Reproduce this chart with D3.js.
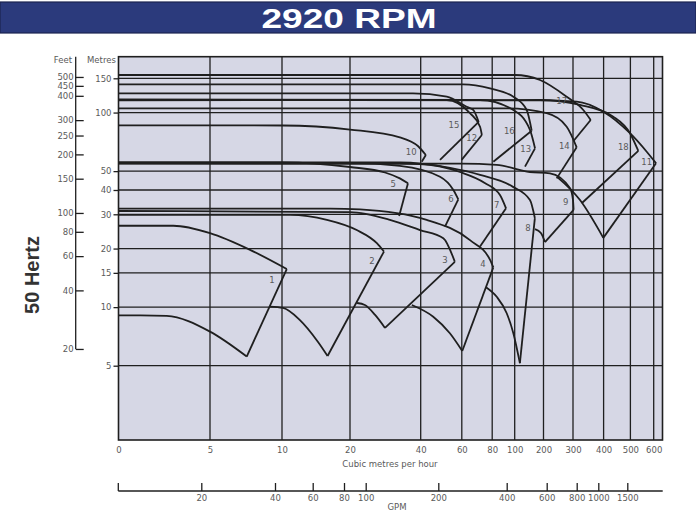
<!DOCTYPE html>
<html><head><meta charset="utf-8">
<script src="https://cdn.jsdelivr.net/npm/d3@7"></script>
<style>body{margin:0;background:#fff}svg{display:block}</style>
</head><body>
<svg id="c" width="696" height="513"></svg>
<script>
// ---------- data ----------
const title = "2920 RPM";
const sideLabel = "50 Hertz";
const flowTicks = [0,5,10,20,40,60,80,100,200,300,400,500,600];
const metreTicks = [5,10,15,20,30,40,50,100,150];
const feetTicks = [20,40,60,80,100,150,200,250,300,400,450,500];
const gpmTicks = [20,40,60,80,100,200,400,600,800,1000,1500];
const pumpNames = ["1","2","3","4","5","6","7","8","9","10","11","12","13","14","15","16","17","18"];
// max-impeller curves [flow m3/h, head m]
const topCurves = [
  [[0,26.2],[3,26.2],[5,24.0],[7.78,19.7],[10.7,15.7]],
  [[0,29.8],[11.2,29.8],[16.6,28.1],[21.9,24.9],[27.6,21.3],[29.6,19.3]],
  [[0,31.2],[20,30.8],[31.3,28.1],[39.8,24.9],[51,22.6],[56.6,17.1]],
  [[0,32.1],[17.1,32.1],[22.8,31.8],[42.9,28.1],[65.4,22.1],[78.6,17.5],[81,16.0]],
  [[0,55.5],[10.15,55.5],[20,52.5],[29.9,49.2],[34.1,45.9],[36.4,43.3]],
  [[0,55.1],[20,55.1],[34.1,53.2],[49.4,46.8],[55.9,40],[58.3,35.8]],
  [[0,54.8],[34.1,54.6],[39.8,54.4],[59.1,49.5],[75.1,43.5],[86.9,37.7],[92.3,32.2]],
  [[0,55.4],[34.1,55.4],[54.3,51.9],[72,47.8],[98.5,41.5],[153,35.5],[170,28.7]],
  [[0,54.6],[60,54.6],[84,53.8],[153,49.5],[222,48.7],[290,40.8],[300,35.5],[302,31.6]],
  [[0,86],[10.15,85.8],[20,81.8],[34.1,74.6],[39.2,67.3],[42.5,60.5]],
  [[0,116],[187.8,115.5],[312,113.7],[399,101],[498.5,78.3],[570,62.9],[610,54.9]],
  [[0,116],[52.7,116],[65.4,99.2],[72,84.6],[73.2,76.7]],
  [[0,117],[72,116],[98.8,103.1],[153,81.4],[170.5,65.5]],
  [[0,105.2],[92.9,105.2],[210.8,99.2],[278.6,84.6],[312,66.3]],
  [[0,125.6],[37.8,125.6],[52.7,120.6],[63.2,107.2],[67.5,103.1],[71.1,89.5]],
  [[0,139.7],[60.8,139.7],[78.6,133.2],[98.8,120.6],[141.7,103.1],[159,80.7]],
  [[0,156],[101,156],[187.8,147],[278.6,120.6],[333.7,103.1],[357.8,91.6]],
  [[0,115.5],[187.8,116],[322.9,109.4],[436.2,95.2],[498.5,78.3],[533.9,63.5]]
];
// min-impeller end points [flow, head]
const lowEnds = [[7.55,5.57],[16.7,5.61],[29.9,7.82],[60.3,5.95],[33.9,29.4],[51.8,25.9],[72,20.5],[118,5.15],[205,21.6],
  [40.5,55.9],[399,22.7],[59.9,57.1],[135.8,52.7],[244.7,45.9],[49.4,57.1],[81,55.9],[301.6,71.4],[328.4,34.2]];
// visible parts of min-impeller curves (leading to the end point)
const bottomCurves = [
  [[0,9.08],[1.2,9.08],[2.63,9.01],[5,7.48]],
  [[9.17,10.06],[10.15,9.9],[12.6,8.6],[15.3,6.62]],
  [[22,10.5],[24.2,10.26],[27.1,9.12]],
  [[37.5,10.26],[46.1,8.93],[54.2,7.34]],
  [],[],[],
  [[75.9,12.65],[84,11.3],[92.9,9.3],[98.8,7.34]],
  [[170.5,25.2],[191,24.05]],
  [],
  [[245.8,46.7],[322.9,35.5]],
  [],[],[],[],[],[],[]
];
const labelAt = [[9.3,13.8],[26.2,17.3],[51.8,17.5],[74,16.7],[32.2,43],[54.7,36],[84,33.5],[146,25.5],[275,34.8],
  [37.3,63],[570,55.9],[66.5,74.3],[138.5,65],[270.5,67.3],[56.2,86.4],[95.2,80.7],[261.7,115],[473.5,66.8]];

// ---------- layout ----------
const plot = {left:118.5, right:662.5, top:56.7, bottom:440};
const flowStopsPx = [118.5,210,282,350,420.7,461.8,492.2,514.7,543.5,573,603.6,630.4,653.7,662.5];
const gpmStopsPx = [118.3,201.3,275,312.7,344,365.7,438.3,506.7,546.7,576.7,598.3,627.3,662.7];
const ink = "#1f1f1f", textCol = "#5a5a5a";
const font = "DejaVu Sans, Verdana, sans-serif";

const svg = d3.select("#c");
const x = d3.scaleLinear().domain(flowTicks.concat([638])).range(flowStopsPx);
const y = d3.scaleLog().domain([5,150]).range([365.7,78.3]);
const yFeet = d3.scaleLog().domain([5/0.3048,150/0.3048]).range([365.7,78.3]);
const xGpm = d3.scaleLinear().domain([0].concat(gpmTicks,[2110])).range(gpmStopsPx);

// title band
svg.append("rect").attr("x",0).attr("y",2).attr("width",696).attr("height",31)
  .attr("fill","#2b3a7c").attr("stroke","#1b2350").attr("stroke-width",1.2);
svg.append("text").attr("x",349).attr("y",27.5).attr("text-anchor","middle")
  .attr("font-family","Liberation Sans, Arial, sans-serif").attr("font-weight","bold")
  .attr("font-size",27).attr("fill","#fff")
  .attr("textLength",175).attr("lengthAdjust","spacingAndGlyphs").text(title);

// plot background
svg.append("rect").attr("x",plot.left).attr("y",plot.top)
  .attr("width",plot.right-plot.left).attr("height",plot.bottom-plot.top).attr("fill","#d6d7e5");

svg.append("clipPath").attr("id","pc").append("rect").attr("x",plot.left).attr("y",plot.top)
  .attr("width",plot.right-plot.left).attr("height",plot.bottom-plot.top);

// grid
const grid = svg.append("g").attr("stroke",ink).attr("stroke-width",1.3);
grid.selectAll("line.v").data(flowTicks.slice(1)).join("line")
  .attr("x1",d=>x(d)).attr("x2",d=>x(d)).attr("y1",plot.top).attr("y2",plot.bottom);
grid.selectAll("line.h").data(metreTicks).join("line")
  .attr("x1",plot.left).attr("x2",plot.right).attr("y1",d=>y(d)).attr("y2",d=>y(d));

// curves
const curveG = svg.append("g").attr("clip-path","url(#pc)").attr("fill","none")
  .attr("stroke",ink).attr("stroke-width",1.8).attr("stroke-linejoin","round");
const smooth = d3.line().x(d=>x(d[0])).y(d=>y(d[1])).curve(d3.curveMonotoneX);
const straight = d3.line().x(d=>x(d[0])).y(d=>y(d[1]));
pumpNames.forEach((n,i)=>{
  const top = topCurves[i], v = lowEnds[i];
  curveG.append("path").attr("d", smooth(top));
  curveG.append("path").attr("d", straight([top[top.length-1], v]));
  if (bottomCurves[i].length) curveG.append("path").attr("d", smooth(bottomCurves[i].concat([v])));
});
// curve numbers
svg.append("g").selectAll("text").data(pumpNames).join("text")
  .attr("x",(d,i)=>x(labelAt[i][0])).attr("y",(d,i)=>y(labelAt[i][1]))
  .attr("text-anchor","middle").attr("dominant-baseline","central")
  .attr("font-family",font).attr("font-size",8.5).attr("fill",textCol).text(d=>d);

// border
svg.append("rect").attr("x",plot.left).attr("y",plot.top)
  .attr("width",plot.right-plot.left).attr("height",plot.bottom-plot.top)
  .attr("fill","none").attr("stroke",ink).attr("stroke-width",1.6);

// axes
function styleAxis(g){
  g.select(".domain").remove();
  g.selectAll("text").attr("font-family",font).attr("font-size",8.5).attr("fill",textCol);
  g.selectAll("line").attr("stroke",ink).attr("stroke-width",1.3);
}
svg.append("g").attr("transform",`translate(${plot.left},0)`)
  .call(d3.axisLeft(y).tickValues(metreTicks).tickFormat(d3.format("d")).tickSize(5).tickPadding(2))
  .call(styleAxis);
svg.append("g").attr("transform","translate(75.7,0)")
  .call(d3.axisLeft(yFeet).tickValues(feetTicks).tickFormat(d3.format("d")).tickSizeInner(-8).tickSizeOuter(0).tickPadding(2))
  .call(styleAxis);
svg.append("line").attr("x1",75.7).attr("x2",75.7).attr("y1",plot.top).attr("y2",yFeet(20))
  .attr("stroke",ink).attr("stroke-width",1.3);
svg.append("g").attr("transform",`translate(0,${plot.bottom})`)
  .call(d3.axisBottom(x).tickValues(flowTicks).tickFormat(d3.format("d")).tickSize(0).tickPadding(7))
  .call(styleAxis);
svg.append("g").attr("transform","translate(0,491)")
  .call(d3.axisBottom(xGpm).tickValues(gpmTicks).tickFormat(d3.format("d")).tickSizeInner(-8).tickSizeOuter(0).tickPadding(4))
  .call(styleAxis);
svg.append("line").attr("x1",xGpm(0)).attr("x2",xGpm(2110)).attr("y1",491).attr("y2",491)
  .attr("stroke",ink).attr("stroke-width",1.3);
svg.append("line").attr("x1",xGpm(0)).attr("x2",xGpm(0)).attr("y1",483).attr("y2",491)
  .attr("stroke",ink).attr("stroke-width",1.3);

// axis titles
const t = (txt,xx,yy,anchor)=>svg.append("text").attr("x",xx).attr("y",yy).attr("text-anchor",anchor)
  .attr("font-family",font).attr("font-size",8.5).attr("fill",textCol).text(txt);
t("Feet",72,63,"end");
t("Metres",87,63,"start");
t("Cubic metres per hour",390,467,"middle");
t("GPM",397,510,"middle");
svg.append("text").attr("transform","translate(39,275) rotate(-90)").attr("text-anchor","middle")
  .attr("font-family","Liberation Sans, Arial, sans-serif").attr("font-weight","bold")
  .attr("font-size",20).attr("fill","#333").text(sideLabel);
</script>
</body></html>
